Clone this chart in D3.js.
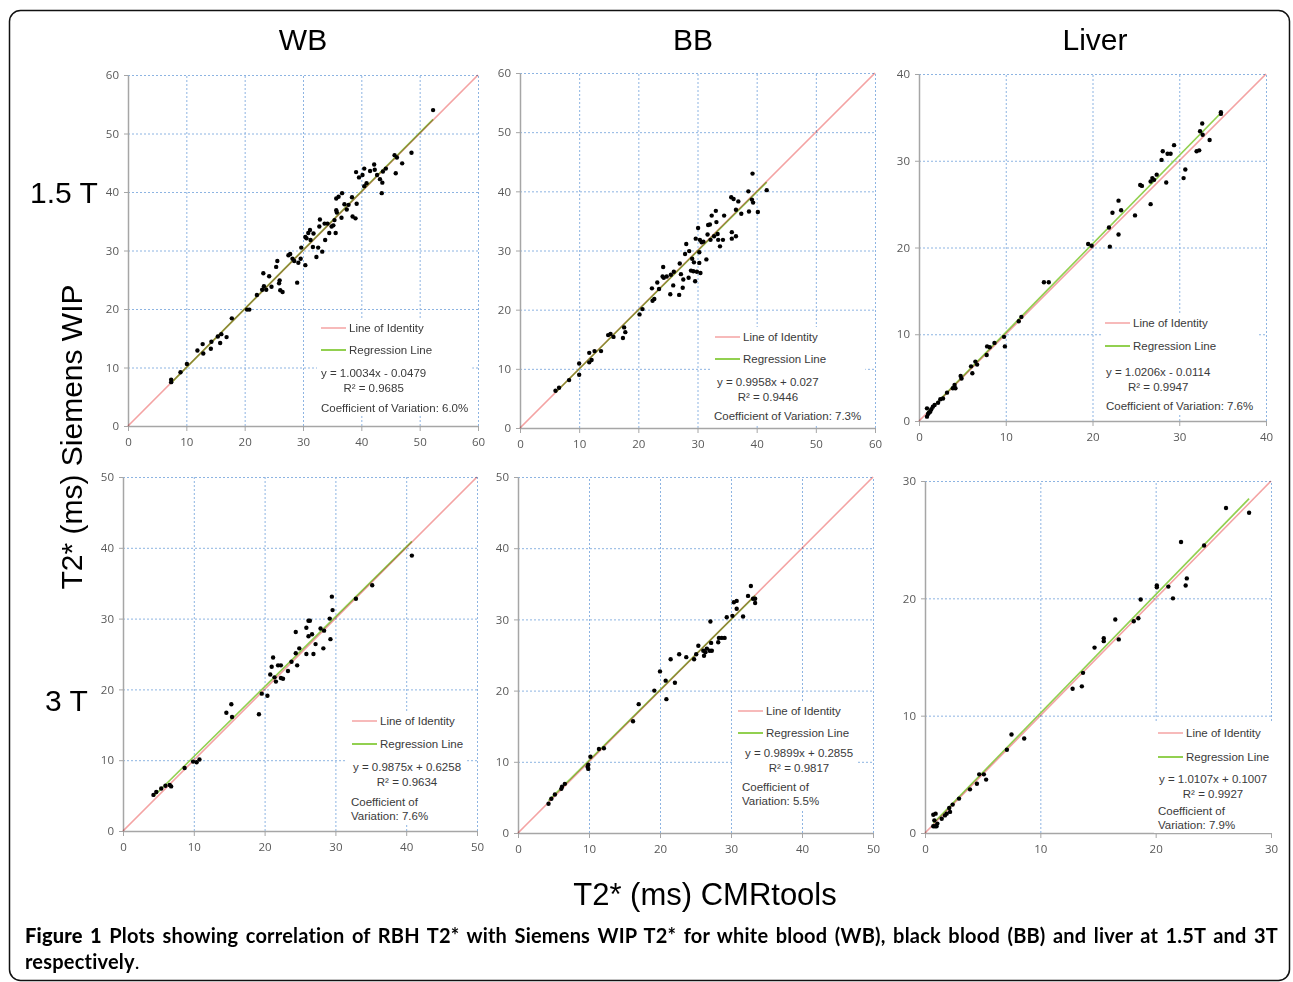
<!DOCTYPE html>
<html>
<head>
<meta charset="utf-8">
<script src="https://cdn.jsdelivr.net/npm/d3@7"></script>
<style>
  body { margin: 0; background: #fff; }
  svg { display: block; }
</style>
</head>
<body>
<script>
// panel order: WB 1.5T, BB 1.5T, Liver 1.5T, WB 3T, BB 3T, Liver 3T
const columnTitles = ["WB", "BB", "Liver"];
const rowTitles = ["1.5 T", "3 T"];
const axisMax = [60, 60, 40, 50, 50, 30];
const slopes = [1.0034, 0.9958, 1.0206, 0.9875, 0.9899, 1.0107];
const intercepts = [-0.0479, 0.027, -0.0114, 0.6258, 0.2855, 0.1007];
const equations = ["y = 1.0034x - 0.0479", "y = 0.9958x + 0.027", "y = 1.0206x - 0.0114",
  "y = 0.9875x + 0.6258", "y = 0.9899x + 0.2855", "y = 1.0107x + 0.1007"];
const rSquared = ["0.9685", "0.9446", "0.9947", "0.9634", "0.9817", "0.9927"];
const covLines = [
  ["Coefficient of Variation: 6.0%"],
  ["Coefficient of Variation: 7.3%"],
  ["Coefficient of Variation: 7.6%"],
  ["Coefficient of", "Variation: 7.6%"],
  ["Coefficient of", "Variation: 5.5%"],
  ["Coefficient of", "Variation: 7.9%"]
];

// [CMRtools, Siemens WIP] in ms
const wb15 = [[7.4,7.9],[7.4,7.5],[9.0,9.2],[10.1,10.6],[11.9,12.9],[12.8,14.0],[12.9,12.4],[14.2,13.2],
  [14.3,14.4],[15.4,15.3],[16.0,15.7],[15.8,14.2],[16.9,15.2],[17.8,18.4],[20.4,19.9],[20.8,19.9],
  [22.1,22.4],[23.0,23.3],[23.2,26.1],[23.3,23.9],[23.7,23.3],[24.2,25.6],[24.6,23.8],[25.4,27.2],
  [25.6,28.2],[25.9,24.4],[26.1,23.2],[26.5,22.9],[26.0,24.9],[27.5,29.2],[27.8,29.4],[28.2,28.6],
  [28.5,28.2],[29.0,24.5],[29.2,27.9],[29.6,28.6],[29.7,30.5],[30.4,27.5],[30.4,32.3],[30.6,32.1],
  [30.9,33.0],[31.2,33.5],[31.7,30.6],[31.3,31.8],[31.8,32.9],[32.3,28.9],[32.6,30.5],[32.9,35.3],
  [32.8,34.1],[33.3,29.8],[33.7,34.6],[33.8,31.8],[34.2,34.6],[34.5,33.0],[34.9,34.1],[35.2,34.3],
  [35.4,35.2],[35.6,33.0],[35.7,36.9],[35.8,36.5],[35.7,38.9],[36.1,39.2],[36.6,35.6],[36.7,39.8],
  [37.1,37.9],[37.5,37.0],[37.8,37.8],[38.4,39.1],[38.5,35.8],[39.0,35.5],[39.2,38.0],[39.1,43.4],
  [39.6,42.5],[40.2,42.9],[40.5,44.0],[40.5,41.0],[40.9,41.5],[41.5,43.6],[42.2,44.7],[42.3,43.8],
  [42.7,42.9],[43.2,42.2],[43.5,39.8],[43.6,41.6],[43.7,43.5],[44.2,44.0],[45.7,46.3],[45.9,43.2],
  [46.1,45.9],[47.0,44.9],[48.6,46.7],[52.3,54.0]];

const bb15 = [[6.0,6.3],[6.6,6.8],[8.3,8.1],[10.0,10.9],[10.0,9.0],[11.7,12.7],[11.7,11.1],[12.1,11.5],
  [12.6,13.0],[13.7,13.0],[14.9,15.7],[15.3,15.9],[15.8,15.4],[17.4,15.2],[17.6,17.0],[17.8,16.2],
  [20.2,19.2],[20.7,20.1],[22.3,23.6],[22.4,21.5],[22.7,21.8],[23.2,24.6],[23.5,23.5],[24.1,25.6],
  [24.2,27.2],[24.3,25.4],[24.8,25.6],[25.4,22.6],[25.5,25.9],[25.9,24.1],[26.0,26.4],[26.9,22.5],
  [27.0,27.8],[27.2,26.0],[27.5,23.7],[27.6,25.1],[27.9,29.4],[28.1,31.1],[28.5,25.4],[28.6,29.9],
  [28.9,26.6],[29.1,28.6],[29.3,26.5],[29.4,28.0],[29.6,24.8],[29.7,32.0],[29.9,26.4],[30.1,33.8],
  [30.3,29.7],[30.3,27.9],[30.4,31.8],[30.5,26.2],[30.7,31.4],[31.0,31.5],[31.5,28.5],[31.7,32.7],
  [31.8,34.3],[32.1,34.4],[32.2,31.8],[32.4,35.9],[32.8,32.4],[33.1,36.7],[33.2,34.8],[33.4,32.8],
  [33.5,31.8],[33.8,30.7],[34.3,31.8],[34.5,35.9],[35.7,39.0],[35.8,33.1],[35.8,32.0],[36.1,38.7],
  [36.5,36.9],[36.5,32.4],[36.9,38.3],[37.4,36.2],[38.6,40.0],[38.7,36.6],[39.2,38.6],[39.3,43.0],
  [39.4,38.1],[40.2,36.5],[41.7,40.2]];

const liver15 = [[0.92,1.46],[1.04,0.81],[0.92,0.5],[1.15,0.96],[1.3,1.08],[1.42,1.35],[1.6,1.65],
  [1.8,1.85],[2.2,2.1],[2.46,2.5],[2.77,2.6],[3.23,3.27],[3.9,3.77],[4.1,4.15],[4.2,3.77],[4.8,5.2],
  [4.9,4.9],[6.0,6.3],[6.15,5.5],[6.5,6.85],[6.7,6.5],[7.8,7.6],[7.85,8.6],[8.15,8.5],[8.7,9.0],
  [9.8,9.7],[9.9,8.6],[11.5,11.5],[11.8,12.0],[14.4,16.0],[14.96,16.0],[19.5,20.4],[19.9,20.2],
  [21.9,22.3],[22.0,20.1],[22.3,24.0],[23.0,25.4],[23.0,21.5],[23.3,24.3],[24.9,23.7],[25.5,27.2],
  [25.7,27.1],[26.7,27.6],[26.7,25.0],[26.9,28.0],[27.1,27.8],[27.4,28.4],[27.96,30.1],[28.1,31.1],
  [28.5,27.5],[28.65,30.8],[29.0,30.8],[29.4,31.8],[30.5,28.0],[30.7,29.0],[32.0,31.1],[32.3,31.2],
  [32.4,33.4],[32.65,34.3],[32.7,33.0],[33.5,32.4],[34.8,35.6],[34.8,35.4]];

const wb3 = [[4.3,5.1],[4.7,5.5],[5.4,6.0],[6.0,6.4],[6.6,6.5],[6.8,6.3],[8.7,8.9],[9.9,9.8],
  [10.4,9.7],[10.8,10.1],[14.6,16.7],[15.3,17.9],[15.4,16.1],[19.2,16.5],[19.6,19.4],[20.4,19.1],
  [20.8,22.1],[21.0,23.2],[21.2,24.5],[21.4,21.7],[21.6,21.1],[21.9,23.4],[22.3,23.4],[22.3,21.6],
  [22.6,21.5],[23.3,22.6],[23.8,23.9],[24.4,25.1],[24.4,28.1],[24.6,23.4],[24.9,25.8],[25.9,25.0],
  [25.9,28.7],[26.2,27.5],[26.2,29.7],[26.4,29.7],[26.7,27.8],[26.9,25.0],[27.2,26.4],[27.9,28.6],
  [28.3,25.8],[28.4,28.3],[29.2,30.0],[29.3,27.1],[29.5,33.1],[29.6,31.2],[32.9,32.8],[35.2,34.7],
  [40.8,38.9]];

const bb3 = [[4.3,4.1],[4.7,4.8],[5.2,5.4],[6.1,6.2],[6.2,6.5],[6.6,6.9],[9.8,9.3],[9.9,9.6],
  [9.9,9.0],[10.2,10.7],[11.4,11.8],[12.1,11.9],[16.2,15.7],[17.0,18.1],[19.2,20.0],[20.0,22.7],
  [20.8,21.4],[20.9,18.8],[21.5,24.4],[22.1,21.1],[22.7,25.1],[23.7,24.7],[24.8,24.4],[25.1,25.1],
  [25.4,26.3],[26.1,25.6],[26.2,24.9],[26.4,25.4],[26.6,25.9],[27.0,25.6],[27.1,29.7],[27.2,26.7],
  [27.3,25.6],[28.2,26.8],[28.3,27.4],[28.7,27.4],[29.1,27.4],[29.4,30.3],[30.2,30.5],[30.4,32.4],
  [30.8,32.6],[30.8,31.5],[31.7,30.4],[32.4,33.3],[32.8,34.7],[33.1,32.9],[33.4,32.9],[33.4,32.3]];

const liver3 = [[0.72,1.56],[0.92,1.65],[0.81,1.08],[0.72,0.57],[0.87,0.57],[1.0,0.57],[1.07,0.8],
  [1.45,1.22],[1.73,1.5],[1.88,1.65],[2.17,1.8],[2.1,2.13],[2.4,2.42],[2.95,2.93],[3.9,3.72],
  [4.5,4.2],[4.7,5.0],[5.1,5.0],[5.3,4.55],[7.1,7.1],[7.5,8.4],[8.6,8.05],[12.8,12.3],[13.6,12.5],
  [13.7,13.65],[14.7,15.8],[15.5,16.6],[15.5,16.35],[16.5,18.2],[16.8,16.5],[18.1,18.05],[18.5,18.3],
  [18.7,19.9],[20.1,21.1],[20.1,20.95],[21.1,21.0],[21.5,20.0],[22.2,24.8],[22.6,21.1],[22.7,21.7],
  [24.2,24.5],[26.1,27.7],[28.1,27.3]];

const panelData = [wb15, bb15, liver15, wb3, bb3, liver3];

// pixel layout of each plot area and its legend
const panels = [
  {l: 128, r: 478, t: 75, b: 426, lx: 321, ly: [328, 350, 373, 388, 408], eqDx: 0, covDx: 0},
  {l: 520, r: 875, t: 73, b: 428, lx: 715, ly: [337, 359, 382, 397, 416], eqDx: 2, covDx: -1},
  {l: 919, r: 1266, t: 74, b: 421, lx: 1105, ly: [323, 346, 372, 387, 406], eqDx: 1, covDx: 1},
  {l: 123, r: 477, t: 477, b: 831, lx: 352, ly: [721, 744, 767, 782, 802, 816], eqDx: 1, covDx: -1},
  {l: 518, r: 873, t: 477, b: 833, lx: 738, ly: [711, 733, 753, 768, 787, 801], eqDx: 7, covDx: 4},
  {l: 925, r: 1271, t: 481, b: 833, lx: 1158, ly: [733, 757, 779, 794, 811, 825], eqDx: 1, covDx: 0}
];

const W = 1293, H = 982;
const gridColor = "#8db4e2";
const axisColor = "#a6a6a6";
const identityColor = "#f4a3a3";
const regressionColor = "#92d050";
const labelFont = "'Liberation Sans', Arial, sans-serif";

const svg = d3.select("body").append("svg")
  .attr("width", W)
  .attr("height", H);

svg.append("rect")
  .attr("width", W).attr("height", H)
  .attr("fill", "#fff");

// outer frame
svg.append("rect")
  .attr("x", 9.5).attr("y", 10.5)
  .attr("width", 1280).attr("height", 970)
  .attr("rx", 11)
  .attr("fill", "none")
  .attr("stroke", "#111")
  .attr("stroke-width", 1.5);

panels.forEach((p, i) => {
  const max = axisMax[i];
  const x = d3.scaleLinear().domain([0, max]).range([p.l, p.r]);
  const y = d3.scaleLinear().domain([0, max]).range([p.b, p.t]);
  const ticks = d3.range(0, max + 1, 10);
  const g = svg.append("g");

  // dotted grid
  g.append("g")
    .attr("transform", `translate(0,${p.b})`)
    .call(d3.axisBottom(x).tickValues(ticks.slice(1)).tickSize(-(p.b - p.t)).tickFormat(""))
    .call(a => a.select(".domain").remove())
    .selectAll("line")
    .attr("stroke", gridColor)
    .attr("stroke-dasharray", "2,2");
  g.append("g")
    .attr("transform", `translate(${p.l},0)`)
    .call(d3.axisLeft(y).tickValues(ticks.slice(1)).tickSize(-(p.r - p.l)).tickFormat(""))
    .call(a => a.select(".domain").remove())
    .selectAll("line")
    .attr("stroke", gridColor)
    .attr("stroke-dasharray", "2,2");

  // axes
  const xa = g.append("g")
    .attr("transform", `translate(0,${p.b})`)
    .call(d3.axisBottom(x).tickValues(ticks).tickSize(5).tickSizeOuter(0).tickPadding(7));
  const ya = g.append("g")
    .attr("transform", `translate(${p.l},0)`)
    .call(d3.axisLeft(y).tickValues(ticks).tickSize(4).tickSizeOuter(0).tickPadding(5));
  [xa, ya].forEach(a => {
    a.select(".domain").attr("stroke", axisColor).attr("stroke-width", 1.5);
    a.selectAll("line").attr("stroke", axisColor);
    a.selectAll("text")
      .attr("fill", "#595959")
      .style("font-family", "'Open Sans', sans-serif")
      .style("font-size", "11.5px");
  });

  // legend
  const lg = g.append("g")
    .style("font-family", labelFont)
    .style("font-size", "11.5px")
    .attr("fill", "#3a3a3a");
  lg.append("line")
    .attr("x1", p.lx).attr("x2", p.lx + 25)
    .attr("y1", p.ly[0]).attr("y2", p.ly[0])
    .attr("stroke", identityColor).attr("stroke-width", 1.5);
  lg.append("text").attr("x", p.lx + 28).attr("y", p.ly[0]).attr("dy", "0.35em").text("Line of Identity");
  lg.append("line")
    .attr("x1", p.lx).attr("x2", p.lx + 25)
    .attr("y1", p.ly[1]).attr("y2", p.ly[1])
    .attr("stroke", regressionColor).attr("stroke-width", 2);
  lg.append("text").attr("x", p.lx + 28).attr("y", p.ly[1]).attr("dy", "0.35em").text("Regression Line");
  const eq = lg.append("text")
    .attr("x", p.lx + p.eqDx).attr("y", p.ly[2]).attr("dy", "0.35em")
    .text(equations[i]);
  const eqW = eq.node().getComputedTextLength();
  lg.append("text")
    .attr("x", p.lx + p.eqDx + eqW / 2).attr("y", p.ly[3]).attr("dy", "0.35em")
    .attr("text-anchor", "middle")
    .text("R\u00B2 = " + rSquared[i]);
  covLines[i].forEach((t, k) => {
    lg.append("text")
      .attr("x", p.lx + p.covDx).attr("y", p.ly[4 + k]).attr("dy", "0.35em")
      .text(t);
  });
  const bb = lg.node().getBBox();
  lg.insert("rect", ":first-child")
    .attr("x", bb.x - 4).attr("y", bb.y - 4)
    .attr("width", bb.width + 8).attr("height", bb.height + 6)
    .attr("fill", "#fff");

  // regression line over the measured range, identity line multiplied on top
  const data = panelData[i];
  const xr = d3.extent(data, d => d[0]);
  g.append("line")
    .attr("x1", x(xr[0])).attr("y1", y(slopes[i] * xr[0] + intercepts[i]))
    .attr("x2", x(xr[1])).attr("y2", y(slopes[i] * xr[1] + intercepts[i]))
    .attr("stroke", regressionColor).attr("stroke-width", 1.7);
  g.append("line")
    .attr("x1", x(0)).attr("y1", y(0))
    .attr("x2", x(max)).attr("y2", y(max))
    .attr("stroke", identityColor).attr("stroke-width", 1.7)
    .style("mix-blend-mode", "multiply");

  // points
  g.append("g").selectAll("circle")
    .data(data)
    .join("circle")
    .attr("cx", d => x(d[0]))
    .attr("cy", d => y(d[1]))
    .attr("r", 2.2)
    .attr("fill", "#000");
});

// column and row titles
const colCenters = [303, 693, 1095];
columnTitles.forEach((t, k) => {
  svg.append("text")
    .attr("x", colCenters[k]).attr("y", 50)
    .attr("text-anchor", "middle")
    .style("font-family", labelFont).style("font-size", "30px")
    .text(t);
});
const rowBaselines = [203, 711];
const rowStarts = [30, 45];
rowTitles.forEach((t, k) => {
  svg.append("text")
    .attr("x", rowStarts[k]).attr("y", rowBaselines[k])
    .style("font-family", labelFont).style("font-size", "30px")
    .text(t);
});

// shared axis titles
svg.append("text")
  .attr("transform", "translate(82,437) rotate(-90)")
  .attr("text-anchor", "middle")
  .style("font-family", labelFont).style("font-size", "30px")
  .text("T2* (ms) Siemens WIP");
svg.append("text")
  .attr("x", 705).attr("y", 905)
  .attr("text-anchor", "middle")
  .style("font-family", labelFont).style("font-size", "31px")
  .text("T2* (ms) CMRtools");

// caption, first line justified to the frame width
const capFont = "Lato, 'Open Sans', sans-serif";
const cap1 = svg.append("text")
  .attr("x", 25).attr("y", 943)
  .style("font-family", capFont).style("font-size", "20px").style("font-weight", "bold")
  .style("letter-spacing", "0.2px");
cap1.append("tspan").style("font-weight", 900).text("Figure 1");
cap1.append("tspan").text(" Plots showing correlation of RBH T2* with Siemens WIP T2* for white blood (WB), black blood (BB) and liver at 1.5T and 3T");
const natural = cap1.node().getComputedTextLength();
const spaces = (cap1.text().match(/ /g) || []).length;
cap1.style("word-spacing", Math.max(0, (1253 - natural) / spaces) + "px");

const cap2 = svg.append("text")
  .attr("x", 25).attr("y", 969)
  .style("font-family", capFont).style("font-size", "20px").style("font-weight", "bold")
  .style("letter-spacing", "0.2px");
cap2.append("tspan").text("respectively");
cap2.append("tspan").style("font-weight", "normal").text(".");
</script>
</body>
</html>
